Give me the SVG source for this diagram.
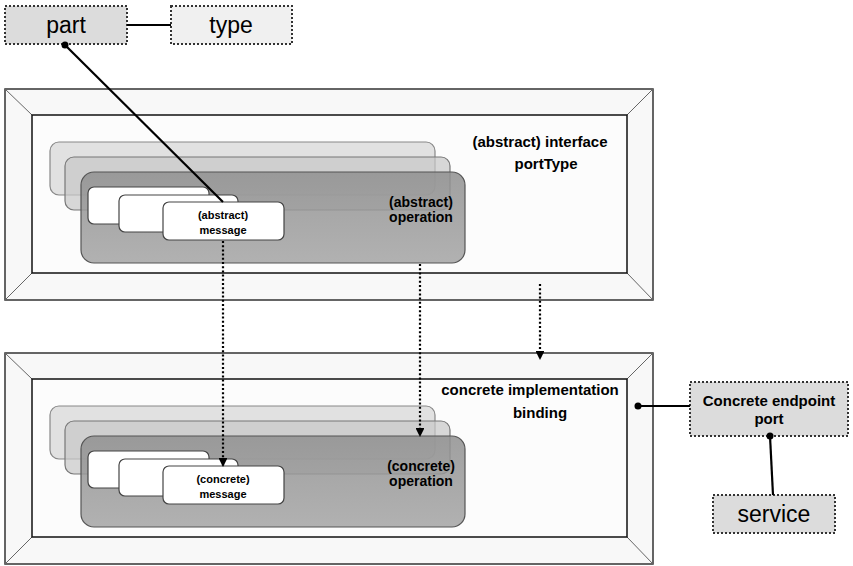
<svg xmlns="http://www.w3.org/2000/svg" width="853" height="566" viewBox="0 0 853 566">
<defs>
<style>
text{font-family:"Liberation Sans",Arial,sans-serif;fill:#000}
.b{font-weight:bold;font-size:15px}
.op{font-weight:bold;font-size:14px}
.sm{font-weight:bold;font-size:11px}
.big{font-size:23px}
.frame{fill:#f8f8f8;stroke:#333;stroke-width:1.5}
.inner{fill:#fcfcfc;stroke:#111;stroke-width:1.5}
.diag{stroke:#666;stroke-width:1}
.r1{fill:#d6d6d6;fill-opacity:0.7;stroke:#888;stroke-width:1.2}
.r2{fill:#c8c8c8;fill-opacity:0.7;stroke:#777;stroke-width:1.2}
.r3{fill:url(#g3);fill-opacity:0.85;stroke:#555;stroke-width:1.2}
.msg{fill:#fff;stroke:#444;stroke-width:1.2}
.dbox{stroke:#333;stroke-width:2;stroke-dasharray:2,2}
.solid{stroke:#000;stroke-width:2.2;fill:none}
.dot{stroke:#000;stroke-width:2.2;stroke-dasharray:2,2.2;fill:none}
</style>
<linearGradient id="g3" x1="0" y1="0" x2="0" y2="1">
<stop offset="0" stop-color="#909090"/>
<stop offset="1" stop-color="#a4a4a4"/>
</linearGradient>
<marker id="ah" viewBox="0 0 10 10" refX="9" refY="5" markerWidth="4" markerHeight="4" orient="auto" markerUnits="strokeWidth">
<path d="M0,0 L10,5 L0,10 z" fill="#000"/>
</marker>
</defs>
<rect width="853" height="566" fill="#fff"/>

<g id="portType">
<rect class="frame" x="5" y="89" width="648" height="211"/>
<line class="diag" x1="5" y1="89" x2="32" y2="115"/>
<line class="diag" x1="653" y1="89" x2="627" y2="115"/>
<line class="diag" x1="5" y1="300" x2="32" y2="273"/>
<line class="diag" x1="653" y1="300" x2="627" y2="273"/>
<rect class="inner" x="32" y="115" width="595" height="158"/>
<text class="b" x="540" y="147" text-anchor="middle">(abstract) interface</text>
<text class="b" x="546" y="169" text-anchor="middle">portType</text>
</g>

<g id="abstract-operation">
<rect class="r1" x="50" y="142" width="385" height="53" rx="9"/>
<rect class="r2" x="65" y="157" width="385" height="53" rx="9"/>
<rect class="r3" x="81" y="172" width="384" height="91" rx="13"/>
<text class="op" x="421" y="207" text-anchor="middle">(abstract)</text>
<text class="op" x="421" y="222" text-anchor="middle">operation</text>
</g>

<g id="abstract-message">
<rect class="msg" x="88" y="187" width="121" height="37" rx="6"/>
<rect class="msg" x="119" y="195" width="119" height="37" rx="6"/>
<rect class="msg" x="163" y="202" width="121" height="38" rx="6"/>
<text class="sm" x="223" y="219" text-anchor="middle">(abstract)</text>
<text class="sm" x="223" y="234" text-anchor="middle">message</text>
</g>

<g id="binding">
<rect class="frame" x="5" y="353" width="648" height="211"/>
<line class="diag" x1="5" y1="353" x2="32" y2="379"/>
<line class="diag" x1="653" y1="353" x2="627" y2="379"/>
<line class="diag" x1="5" y1="564" x2="32" y2="537"/>
<line class="diag" x1="653" y1="564" x2="627" y2="537"/>
<rect class="inner" x="32" y="379" width="595" height="158"/>
<text class="b" x="530" y="395" text-anchor="middle">concrete implementation</text>
<text class="b" x="540" y="418" text-anchor="middle">binding</text>
</g>

<g id="concrete-operation">
<rect class="r1" x="50" y="406" width="385" height="53" rx="9"/>
<rect class="r2" x="65" y="421" width="385" height="53" rx="9"/>
<rect class="r3" x="81" y="436" width="384" height="91" rx="13"/>
<text class="op" x="421" y="471" text-anchor="middle">(concrete)</text>
<text class="op" x="421" y="486" text-anchor="middle">operation</text>
</g>

<g id="concrete-message">
<rect class="msg" x="88" y="451" width="121" height="37" rx="6"/>
<rect class="msg" x="119" y="459" width="119" height="37" rx="6"/>
<rect class="msg" x="163" y="466" width="121" height="38" rx="6"/>
<text class="sm" x="223" y="483" text-anchor="middle">(concrete)</text>
<text class="sm" x="223" y="498" text-anchor="middle">message</text>
</g>

<g id="part">
<rect class="dbox" x="5" y="6" width="122" height="38" fill="#dcdcdc"/>
<text class="big" x="66" y="33" text-anchor="middle">part</text>
</g>

<g id="type">
<rect class="dbox" x="171" y="6" width="121" height="38" fill="#f0f0f0"/>
<text class="big" x="231" y="33" text-anchor="middle">type</text>
</g>

<g id="port">
<rect class="dbox" x="690" y="382" width="158" height="54" fill="#dcdcdc"/>
<text class="b" x="769" y="406" text-anchor="middle">Concrete endpoint</text>
<text class="b" x="769" y="424" text-anchor="middle">port</text>
</g>

<g id="service">
<rect class="dbox" x="713" y="495" width="122" height="38" fill="#dcdcdc"/>
<text class="big" x="774" y="522" text-anchor="middle">service</text>
</g>

<g id="connectors">
<line class="solid" x1="127" y1="25" x2="171" y2="25"/>
<line class="solid" x1="65" y1="45" x2="223" y2="202"/>
<circle cx="65" cy="45" r="3.5" fill="#000"/>
<line class="solid" x1="638" y1="406" x2="690" y2="406"/>
<circle cx="638" cy="406" r="3.5" fill="#000"/>
<line class="solid" x1="770" y1="436" x2="773" y2="495"/>
<circle cx="770" cy="436" r="3.5" fill="#000"/>
<line class="dot" x1="223" y1="241" x2="223" y2="466" marker-end="url(#ah)"/>
<line class="dot" x1="420" y1="264" x2="420" y2="436" marker-end="url(#ah)"/>
<line class="dot" x1="540" y1="284" x2="540" y2="359" marker-end="url(#ah)"/>
</g>
</svg>
